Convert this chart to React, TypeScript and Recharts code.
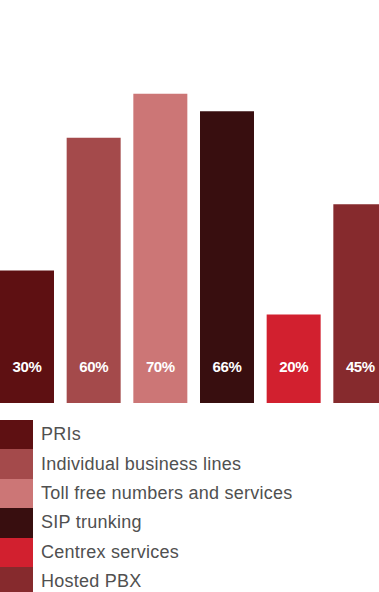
import React from 'react';
import { BarChart, Bar, XAxis, YAxis, Cell, LabelList, Legend } from 'recharts';

const categories = [
  'PRIs',
  'Individual business lines',
  'Toll free numbers and services',
  'SIP trunking',
  'Centrex services',
  'Hosted PBX',
];
const values = [30, 60, 70, 66, 20, 45];
const colors = ['#5e1012', '#a44a4b', '#cc7676', '#380e0f', '#d2202f', '#862a2d'];

const data = categories.map((name, i) => ({ name, value: values[i] }));

const renderLabel = (props: any) => {
  const { x, y, width, height, value } = props;
  return (
    <text
      x={Number(x) + Number(width) / 2}
      y={Number(y) + Number(height) - 36.5}
      fill="#ffffff"
      textAnchor="middle"
      dominantBaseline="central"
      style={{ fontFamily: 'Liberation Sans, Arial, sans-serif', fontWeight: 700, fontSize: 15, letterSpacing: -0.4 }}
    >
      {value}%
    </text>
  );
};

const renderLegend = () => (
  <div style={{ fontFamily: 'Liberation Sans, Arial, sans-serif' }}>
    {categories.map((c, i) => (
      <div key={c} style={{ display: 'flex', alignItems: 'center', height: 29.4 }}>
        <div style={{ width: 33, height: 29.4, background: colors[i], flexShrink: 0 }} />
        <span style={{ marginLeft: 8, fontSize: 18, letterSpacing: 0.25, color: '#505050', whiteSpace: 'nowrap' }}>{c}</span>
      </div>
    ))}
  </div>
);

export default function App() {
  return (
    <div style={{ position: 'absolute', left: 0, top: 0, width: 379, height: 592, overflow: 'hidden', background: '#fff' }}>
      <div style={{ marginLeft: -6.5 }}>
        <BarChart width={400} height={592} data={data} margin={{ top: 0, right: 0, bottom: 189, left: 0 }}>
          <XAxis dataKey="name" hide />
          <YAxis hide domain={[0, 91.2]} />
          <Bar dataKey="value" barSize={54} isAnimationActive={false}>
            {data.map((d, i) => (
              <Cell key={d.name} fill={colors[i]} />
            ))}
            <LabelList dataKey="value" content={renderLabel} />
          </Bar>
          <Legend
            layout="horizontal"
            verticalAlign="middle"
            align="center"
            content={renderLegend}
            wrapperStyle={{ position: 'absolute', top: 420, left: 6.5, width: 379, height: 176, margin: 0 }}
          />
        </BarChart>
      </div>
    </div>
  );
}
